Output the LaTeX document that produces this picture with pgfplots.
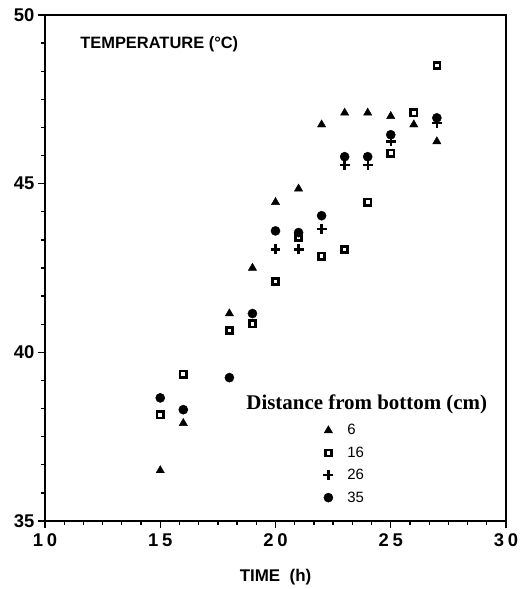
\documentclass[border=0pt]{standalone}
\usepackage{pgfplots}
\usepackage{pgfplotstable}
\pgfplotsset{compat=1.18}
\usepackage{fontspec}
\setmainfont{Liberation Sans}
\newfontfamily\serifb{Liberation Serif}

% distance from bottom: 6, 16, 26, 35 cm
\pgfplotstableread{
x y
15 36.5
16 37.9
18 41.15
19 42.5
20 44.45
21 44.85
22 46.75
23 47.1
24 47.1
25 47.0
26 46.75
27 46.25
}\dsix
\pgfplotstableread{
x y
15 38.15
16 39.35
18 40.65
19 40.85
20 42.1
21 43.4
22 42.85
23 43.05
24 44.45
25 45.9
26 47.1
27 48.5
}\dsixteen
\pgfplotstableread{
x y
20 43.05
21 43.05
22 43.65
23 45.55
24 45.55
25 46.25
27 46.8
}\dtwentysix
\pgfplotstableread{
x y
15 38.65
16 38.3
18 39.25
19 41.15
20 43.6
21 43.55
22 44.05
23 45.8
24 45.8
25 46.45
27 46.95
}\dthirtyfive

\begin{document}
\begin{tikzpicture}
\useasboundingbox (-45bp,-68bp) rectangle (476bp,521bp);
\begin{axis}[
  scale only axis,
  width=461bp, height=506bp,
  xmin=10, xmax=30, ymin=35, ymax=50,
  xtick={10,15,20,25,30},
  xticklabels={1\hspace{4pt}0,1\hspace{4pt}5,2\hspace{4pt}0,2\hspace{4pt}5,3\hspace{4pt}0},
  ytick={35,40,45,50},
  minor tick num=5,
  xtick pos=bottom, ytick pos=left,
  tick align=outside,
  major tick length=7bp, minor tick length=4bp,
  tick style={black, line width=1.3pt},
  axis line style={line width=1.9pt},
  /pgf/number format/assume math mode=true,
  tick label style={font=\fontsize{18.5}{18.5}\selectfont\bfseries},
  xticklabel style={yshift=-2bp},
  xlabel={TIME\ \ (h)},
  xlabel style={font=\fontsize{17}{17}\selectfont\bfseries, yshift=-16bp},
  clip=false,
  legend cell align=left,
  legend style={draw=none, fill=none, anchor=north west,
    at={(axis description cs:0.597,0.199)},
    font=\fontsize{15}{15}\selectfont, row sep=6.5pt},
]
\addplot[only marks, black, mark=triangle*, mark size=4.8pt] table {\dsix};
\addlegendentry{\hspace{12pt}6}
\addplot[only marks, black, mark=square, mark size=3.1pt, mark options={line width=2.5pt}] table {\dsixteen};
\addlegendentry{\hspace{12pt}16}
\addplot[only marks, black, mark=+, mark size=5pt, mark options={line width=2.4pt}] table {\dtwentysix};
\addlegendentry{\hspace{12pt}26}
\addplot[only marks, black, mark=*, mark size=4.6pt] table {\dthirtyfive};
\addlegendentry{\hspace{12pt}35}
\node[anchor=west, font=\fontsize{16.5}{16.5}\selectfont\bfseries]
  at (axis description cs:0.069,0.943) {TEMPERATURE (°C)};
\node[font=\serifb\bfseries\fontsize{21}{21}\selectfont]
  at (axis description cs:0.698,0.231) {Distance from bottom (cm)};
\end{axis}
\end{tikzpicture}
\end{document}
